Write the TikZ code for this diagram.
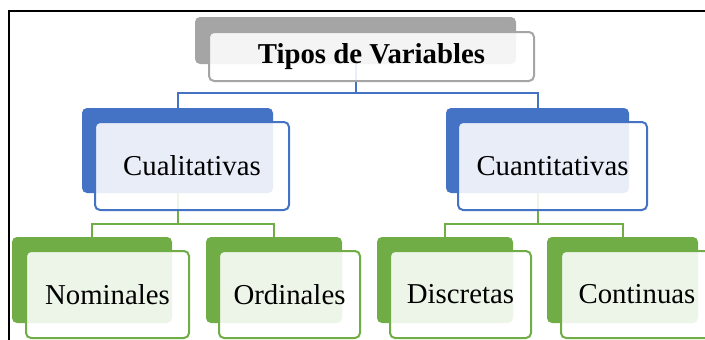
\documentclass[tikz,border=0pt]{standalone}
\usepackage{fontspec}
\setmainfont{Liberation Serif}
\definecolor{azul}{HTML}{4472C4}
\definecolor{verde}{HTML}{70AD47}
\definecolor{gris}{HTML}{A5A5A5}
\tikzset{
  backbox/.style={anchor=north west, rounded corners=5pt, fill=#1, inner sep=0pt, outer sep=0pt},
  frontbox/.style={anchor=north west, rounded corners=5pt, draw=#1, line width=2pt, fill=white, fill opacity=0.88, text opacity=1, inner sep=0pt, outer sep=0pt, font=\fontsize{28.8}{34}\selectfont},
  enlace/.style={line width=2pt, draw=#1},
}
\begin{document}
\begin{tikzpicture}[x=1pt,y=-1pt]
\useasboundingbox (0,0) rectangle (705,340);
\clip (0,0) rectangle (705,340);
\draw[line width=2pt] (9,340)--(9,10.5)--(705,10.5);
\node[backbox=gris, minimum width=321pt, minimum height=47pt] (tvb) at (195,17) {};
\node[backbox=azul, minimum width=191pt, minimum height=85pt] (cualb) at (82,108) {};
\node[backbox=azul, minimum width=183pt, minimum height=85pt] (cuanb) at (446,108) {};
\node[backbox=verde, minimum width=160pt, minimum height=86pt] (nomb) at (12,237) {};
\node[backbox=verde, minimum width=136pt, minimum height=86pt] (ordb) at (206,237) {};
\node[backbox=verde, minimum width=136pt, minimum height=86pt] (disb) at (377,237) {};
\node[backbox=verde, minimum width=151pt, minimum height=86pt] (conb) at (547,237) {};
\draw[enlace=azul] (tvb.south)--++(0,29)-|(cualb.north);
\draw[enlace=azul] (tvb.south)--++(0,29)-|(cuanb.north);
\draw[enlace=verde] (cualb.south)--++(0,31)-|(nomb.north);
\draw[enlace=verde] (cualb.south)--++(0,31)-|(ordb.north);
\draw[enlace=verde] (cuanb.south)--++(0,31)-|(disb.north);
\draw[enlace=verde] (cuanb.south)--++(0,31)-|(conb.north);
\node[frontbox=gris, minimum width=325pt, minimum height=49pt] (tv) at (209,32) {\textbf{Tipos de Variables}};
\node[frontbox=azul, minimum width=194pt, minimum height=88pt] (cual) at (95,122) {Cualitativas};
\node[frontbox=azul, minimum width=189pt, minimum height=88pt] (cuan) at (458,122) {Cuantitativas};
\node[frontbox=verde, minimum width=163pt, minimum height=87pt] (nom) at (26,251) {Nominales};
\node[frontbox=verde, minimum width=141pt, minimum height=87pt] (ord) at (219,251) {Ordinales};
\node[frontbox=verde, minimum width=141pt, minimum height=87pt] (dis) at (390,251) {Discretas};
\node[frontbox=verde, minimum width=152pt, minimum height=87pt] (con) at (561,251) {Continuas};
\end{tikzpicture}
\end{document}
